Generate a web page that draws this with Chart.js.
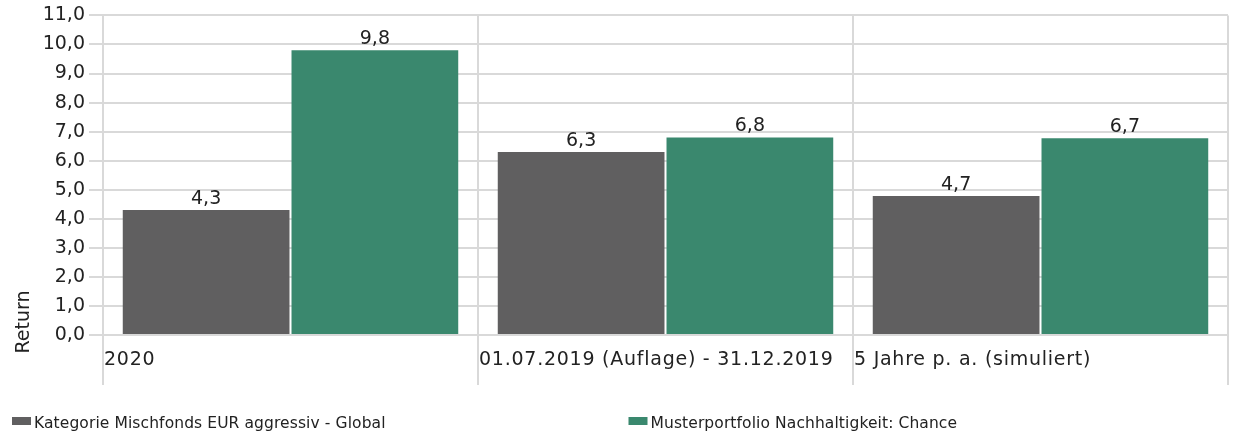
<!DOCTYPE html>
<html>
<head>
<meta charset="utf-8">
<script src="https://cdn.jsdelivr.net/npm/chart.js@4/dist/chart.umd.min.js"></script>
<style>
  html, body { margin: 0; padding: 0; background: #ffffff; }
  #wrap { position: relative; width: 1233px; height: 435px; }
</style>
</head>
<body>
<div id="wrap"><canvas id="returnChart"></canvas></div>
<script>
// data
const categories = ["2020", "01.07.2019 (Auflage) - 31.12.2019", "5 Jahre p. a. (simuliert)"];
const seriesNames = ["Kategorie Mischfonds EUR aggressiv - Global", "Musterportfolio Nachhaltigkeit: Chance"];
const categoryValues = [4.3, 6.3, 4.78];
const portfolioValues = [9.8, 6.8, 6.77];
const yTicks = [0, 1, 2, 3, 4, 5, 6, 7, 8, 9, 10, 11];
const axisTitle = "Return";

const FONT = "'DejaVu Sans', Verdana, sans-serif";
const TEXT = "#222222";
const GRID = "#d9d9d9";

function fmt(v, trunc) {
  const x = trunc ? Math.floor(v * 10 + 1e-9) / 10 : v;
  return x.toFixed(1).replace(".", ",");
}

// value labels, category labels, axis title and legend
const extras = {
  id: "extras",
  afterDatasetsDraw(chart) {
    const ctx = chart.ctx;
    const area = chart.chartArea;
    const xs = chart.scales.x;
    ctx.save();
    ctx.fillStyle = TEXT;
    ctx.font = "19px " + FONT;
    ctx.textAlign = "center";
    ctx.textBaseline = "alphabetic";
    chart.data.datasets.forEach((ds, i) => {
      chart.getDatasetMeta(i).data.forEach((bar, j) => {
        ctx.fillText(fmt(ds.data[j], true), bar.x, bar.y - 6);
      });
    });

    // category labels at the left edge of each category
    const step = (area.right - area.left) / categories.length;
    ctx.textAlign = "left";
    ctx.letterSpacing = "0.75px";
    categories.forEach((c, i) => {
      const left = xs.getPixelForValue(i) - step / 2;
      ctx.fillText(c, left + 1, 365);
    });
    ctx.letterSpacing = "0px";

    // y axis title
    ctx.save();
    ctx.translate(29, 322);
    ctx.rotate(-Math.PI / 2);
    ctx.textAlign = "center";
    ctx.fillText(axisTitle, 0, 0);
    ctx.restore();

    // legend in two columns
    ctx.font = "15.5px " + FONT;
    ctx.letterSpacing = "0.1px";
    const colW = chart.width / 2;
    chart.data.datasets.forEach((ds, i) => {
      const x0 = 12 + i * colW;
      ctx.fillStyle = ds.backgroundColor;
      ctx.fillRect(x0, 417, 19, 8);
      ctx.fillStyle = TEXT;
      ctx.fillText(ds.label, x0 + 22, 428);
    });
    ctx.restore();
  }
};

const chartCanvas = document.getElementById("returnChart");
new Chart(chartCanvas.getContext("2d"), {
  type: "bar",
  data: {
    labels: categories,
    datasets: [
      {
        label: seriesNames[0],
        data: categoryValues,
        backgroundColor: "#605f60",
        categoryPercentage: 0.9,
        barPercentage: 0.988,
      },
      {
        label: seriesNames[1],
        data: portfolioValues,
        backgroundColor: "#3a886e",
        categoryPercentage: 0.9,
        barPercentage: 0.988,
      },
    ],
  },
  options: {
    responsive: true,
    maintainAspectRatio: false,
    animation: false,
    layout: { padding: { top: 15, right: 5, bottom: 0, left: 0 } },
    scales: {
      x: {
        offset: true,
        grid: { offset: true, color: GRID, lineWidth: 2, tickLength: 50 },
        border: { color: GRID, width: 2 },
        ticks: { display: false },
        afterFit: (s) => { s.height = 100; },
      },
      y: {
        min: yTicks[0],
        max: yTicks[yTicks.length - 1],
        afterBuildTicks: (s) => { s.ticks = yTicks.map((v) => ({ value: v })); },
        grid: { color: GRID, lineWidth: 2, tickLength: 14 },
        border: { color: GRID, width: 2 },
        ticks: {
          color: TEXT,
          padding: 4,
          font: { size: 19, family: FONT },
          callback: (v) => fmt(v, false),
        },
        afterFit: (s) => { s.width = 103; },
      },
    },
    plugins: {
      legend: { display: false },
      tooltip: { enabled: false },
    },
  },
  plugins: [extras],
});
</script>
</body>
</html>
